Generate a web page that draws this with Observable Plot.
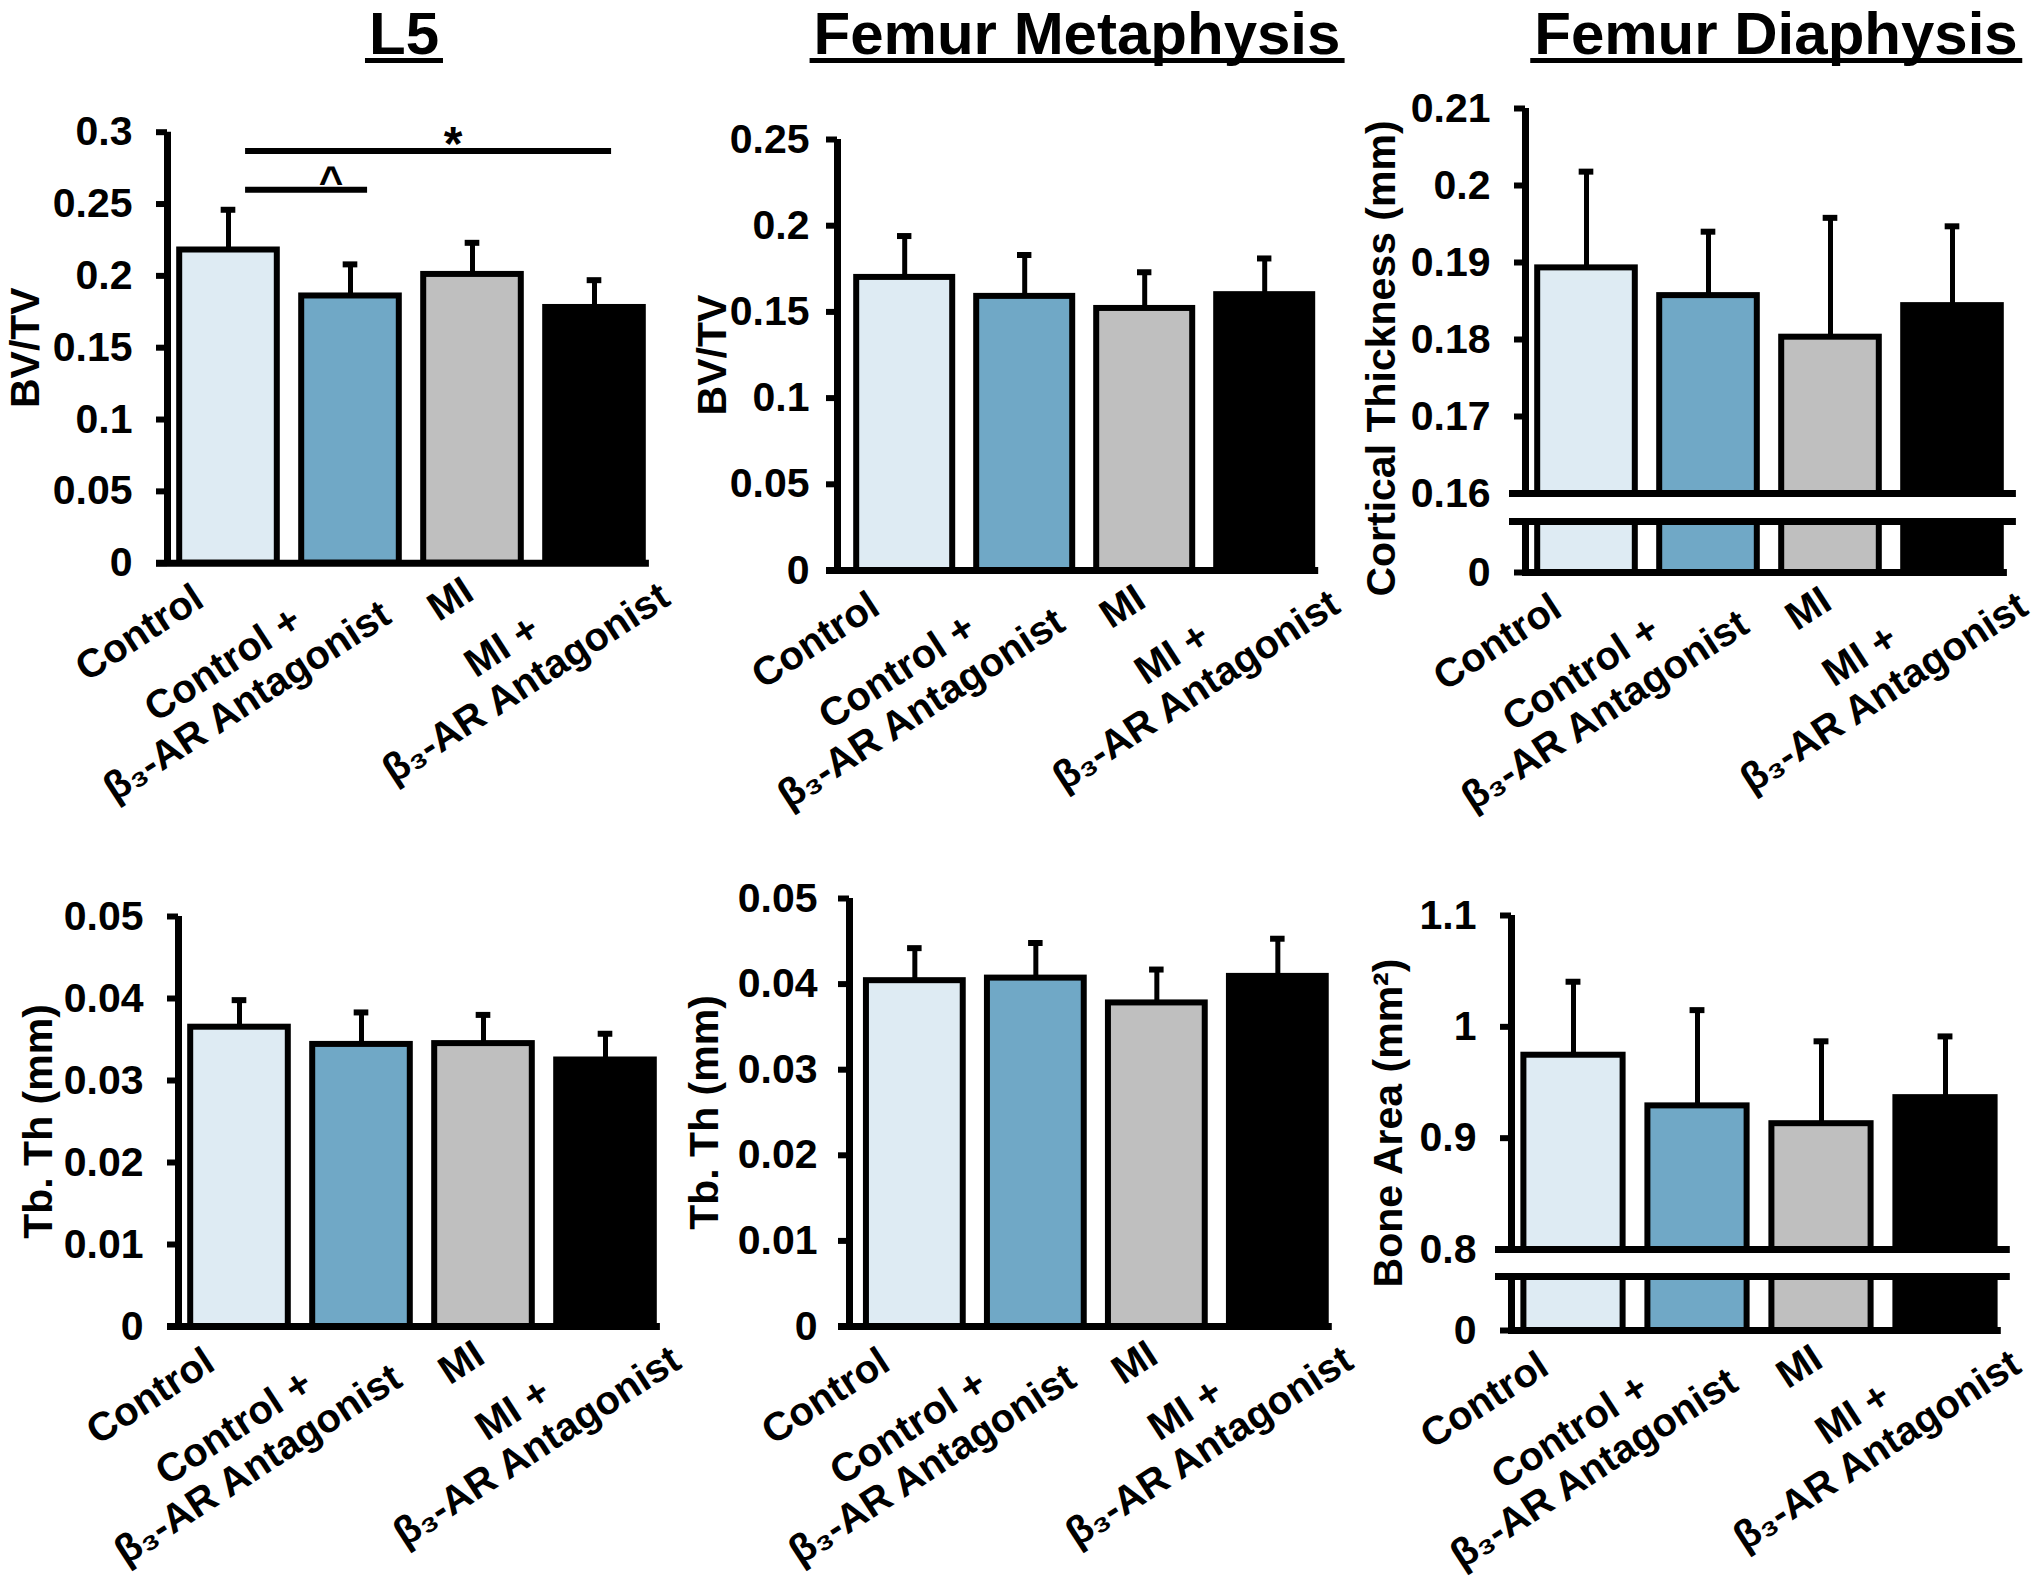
<!DOCTYPE html>
<html>
<head>
<meta charset="utf-8">
<script src="https://cdn.jsdelivr.net/npm/d3@7"></script>
<script src="https://cdn.jsdelivr.net/npm/@observablehq/plot@0.6"></script>
<style>
  html, body { margin: 0; padding: 0; background: #fff; }
  #root { position: relative; width: 2040px; height: 1585px; overflow: hidden; background: #fff;
          font-family: "Liberation Sans", Arial, Helvetica, sans-serif; }
  .title { position: absolute; top: 0; font-weight: bold; font-size: 60px; line-height: 67px; height: 58px;
           white-space: nowrap; transform: translateX(-50%); padding: 0 4px; border-bottom: 5px solid #000; color: #000; }
  .panel { position: absolute; }
</style>
</head>
<body>
<div id="root"></div>
<script>
// ---------- data ----------
const groups = ["Control", "Control +\nβ₃-AR Antagonist", "MI", "MI +\nβ₃-AR Antagonist"];
const barFills = ["#DEEBF3", "#70A8C6", "#BFBFBF", "#000000"];

const titles = ["L5", "Femur Metaphysis", "Femur Diaphysis"];

// L5 BV/TV
const l5BvTvMean = [0.218, 0.186, 0.201, 0.178];
const l5BvTvErr  = [0.028, 0.022, 0.022, 0.019];
const l5BvTvTicks = [0, 0.05, 0.1, 0.15, 0.2, 0.25, 0.3];

// Femur metaphysis BV/TV
const metaBvTvMean = [0.170, 0.159, 0.152, 0.160];
const metaBvTvErr  = [0.024, 0.024, 0.021, 0.021];
const metaBvTvTicks = [0, 0.05, 0.1, 0.15, 0.2, 0.25];

// Femur diaphysis cortical thickness (mm)
const ctThMean = [0.1893, 0.1857, 0.1803, 0.1844];
const ctThErr  = [0.0125, 0.0083, 0.0155, 0.0103];
const ctThTicks = [0, 0.16, 0.17, 0.18, 0.19, 0.2, 0.21];

// L5 Tb.Th (mm)
const l5TbThMean = [0.0365, 0.0344, 0.0345, 0.0325];
const l5TbThErr  = [0.0033, 0.0039, 0.0035, 0.0032];
const l5TbThTicks = [0, 0.01, 0.02, 0.03, 0.04, 0.05];

// Femur metaphysis Tb.Th (mm)
const metaTbThMean = [0.0404, 0.0407, 0.0378, 0.0409];
const metaTbThErr  = [0.0038, 0.0041, 0.0039, 0.0044];
const metaTbThTicks = [0, 0.01, 0.02, 0.03, 0.04, 0.05];

// Femur diaphysis bone area (mm²)
const boneAreaMean = [0.9745, 0.929, 0.913, 0.9364];
const boneAreaErr  = [0.066, 0.086, 0.074, 0.055];
const boneAreaTicks = [0, 0.8, 0.9, 1, 1.1];

// significance annotations (L5 BV/TV)
const sigFrom   = [0, 0];
const sigTo     = [1, 3];
const sigLevel  = [0.26, 0.287];
const sigSymbol = ["^", "*"];

// ---------- drawing ----------
const FONT = "'Liberation Sans', Arial, Helvetica, sans-serif";
const TICK_FS = 41, TITLE_FS = 41, LABEL_FS = 40;
const ANGLE = 33;          // label rotation (deg)
const LINE_H = 44;         // label line spacing
// top-right corner of each rotated label block, relative to its tick on the x axis line
const labelAnchorDx = [-38, 4, -12, 39];
const labelAnchorDy = [18, -3, 11, -21];

const ctx = document.createElement("canvas").getContext("2d");
ctx.font = `bold ${LABEL_FS}px ${FONT}`;
const tw = s => ctx.measureText(s).width;
const fmt = d3.format("~g");
const root = document.getElementById("root");

function makePanel(cfg) {
  const xStart = cfg.xStart ?? -0.5, xStop = 3.45;
  const xEnd = cfg.axisX + (xStop - xStart) * cfg.step;
  const marginLeft = cfg.axisX - cfg.left;
  const marginRight = cfg.left + cfg.width - xEnd;
  const marginTop = cfg.topY - cfg.top;
  const marginBottom = cfg.top + cfg.height - cfg.zeroY;
  const hasBreak = cfg.breakHigh != null;

  // broken axis: values >= breakHigh keep their scale; the stub below the break is squeezed
  let u = v => v, gapLo = null;
  if (hasBreak) {
    const pxPerUnit = (cfg.breakY - cfg.topY) / (cfg.yMax - cfg.breakHigh);
    const gapU = (cfg.lowY - cfg.breakY) / pxPerUnit;
    const lowU = (cfg.zeroY - cfg.lowY) / pxPerUnit;
    gapLo = cfg.breakHigh - gapU;
    u = v => v >= cfg.breakHigh ? v : (gapLo - lowU) + (v / cfg.breakHigh) * lowU;
  }
  const rows = groups.map((g, i) => ({i, mean: cfg.means[i], err: cfg.errs[i], fill: barFills[i]}));
  const X0 = () => xStart, X1 = () => xStop;

  const marks = [
    // error bars (upper only)
    Plot.ruleX(rows, {x: "i", y1: d => u(d.mean), y2: d => u(d.mean + d.err), stroke: "#000", strokeWidth: 5}),
    Plot.ruleY(rows, {y: d => u(d.mean + d.err), x1: d => d.i - 0.06, x2: d => d.i + 0.06, stroke: "#000", strokeWidth: 6}),
    // bars
    Plot.rectY(rows, {x1: d => d.i - 0.4, x2: d => d.i + 0.4, y1: () => u(0), y2: d => u(d.mean),
                      fill: "fill", stroke: "#000", strokeWidth: 6}),
    // y axis line
    Plot.ruleX([xStart], {x: d => d, y1: () => u(0), y2: () => u(cfg.yMax), stroke: "#000", strokeWidth: 7}),
    // tick marks
    Plot.ruleY(cfg.ticks, {y: d => u(d), x1: X0, x2: X0, insetLeft: -11, stroke: "#000", strokeWidth: 6}),
    // x axis line
    Plot.ruleY([0], {y: d => u(d), x1: X0, x2: X1, insetLeft: hasBreak ? -3 : -11, stroke: "#000", strokeWidth: 7}),
  ];
  if (hasBreak) {
    marks.push(
      Plot.rect([0], {x1: X0, x2: X1, y1: () => gapLo, y2: () => cfg.breakHigh,
                      fill: "#fff", insetLeft: -25, insetRight: -25}),
      Plot.ruleY([gapLo, cfg.breakHigh], {y: d => d, x1: X0, x2: X1, insetLeft: -16, insetRight: -9,
                      stroke: "#000", strokeWidth: 7})
    );
  }
  // tick labels
  marks.push(Plot.text(cfg.ticks, {y: d => u(d), x: X0, text: d => fmt(d), textAnchor: "end", dx: -(cfg.tickGap ?? 35),
                                   fontSize: TICK_FS, fontWeight: "bold", fill: "#000"}));
  // y axis title
  marks.push(Plot.text([cfg.yLabel], {frameAnchor: "left", text: d => d, rotate: -90, textAnchor: "middle",
                                      lineAnchor: "middle", dx: cfg.yLabelX - cfg.axisX, dy: cfg.yLabelDy || 0,
                                      fontSize: TITLE_FS, fontWeight: "bold", fill: "#000"}));
  // category labels (rotated, centre-aligned multi-line blocks)
  const th = ANGLE * Math.PI / 180, c = Math.cos(th), s = Math.sin(th);
  groups.forEach((g, i) => {
    const lines = g.split("\n");
    const W = Math.max(...lines.map(tw));
    lines.forEach((line, j) => {
      const dx = labelAnchorDx[i] - c * W / 2 + s * LINE_H * j;
      const dy = labelAnchorDy[i] + s * W / 2 + c * LINE_H * j;
      marks.push(Plot.text([i], {x: d => d, frameAnchor: "bottom", text: () => line, textAnchor: "middle",
                                 lineAnchor: "top", rotate: -ANGLE, dx, dy,
                                 fontSize: LABEL_FS, fontWeight: "bold", fill: "#000"}));
    });
  });
  // significance brackets
  if (cfg.sig) {
    const sig = sigFrom.map((f, k) => ({f, t: sigTo[k], level: sigLevel[k], sym: sigSymbol[k]}));
    marks.push(
      Plot.ruleY(sig, {y: "level", x1: d => d.f + 0.14, x2: d => d.t + 0.14, stroke: "#000", strokeWidth: 6}),
      Plot.text(sig.filter(d => d.sym === "^"), {y: "level", x: d => (d.f + d.t) / 2 + 0.34, text: "sym",
                      lineAnchor: "bottom", dy: 6, fontSize: 42, fontWeight: "bold", fill: "#000"}),
      Plot.text(sig.filter(d => d.sym === "*"), {y: "level", x: d => (d.f + d.t) / 2 + 0.34, text: "sym",
                      lineAnchor: "bottom", dy: 9, fontSize: 48, fontWeight: "bold", fill: "#000"})
    );
  }

  const svg = Plot.plot({
    width: cfg.width, height: cfg.height,
    marginLeft, marginRight, marginTop, marginBottom,
    x: {domain: [xStart, xStop], axis: null},
    y: {domain: [u(0), cfg.yMax], axis: null},
    color: {type: "identity"},
    style: {fontFamily: FONT, background: "transparent", overflow: "visible", color: "#000"},
    marks
  });
  svg.classList.add("panel");
  svg.style.left = cfg.left + "px";
  svg.style.top = cfg.top + "px";
  svg.style.maxWidth = "none";
  root.appendChild(svg);
}

// titles
[[titles[0], 404], [titles[1], 1077], [titles[2], 1776]].forEach(([t, cx]) => {
  const d = document.createElement("div");
  d.className = "title";
  d.textContent = t;
  d.style.left = cx + "px";
  root.appendChild(d);
});

makePanel({left: 0, top: 80, width: 675, height: 740, axisX: 167, step: 122, topY: 131.7, zeroY: 562.7,
           yMax: 0.3, ticks: l5BvTvTicks, means: l5BvTvMean, errs: l5BvTvErr, yLabel: "BV/TV", yLabelX: 25, sig: true});
makePanel({left: 675, top: 80, width: 675, height: 740, axisX: 837, xStart: -0.56, step: 120, topY: 139, zeroY: 570,
           yMax: 0.25, ticks: metaBvTvTicks, means: metaBvTvMean, errs: metaBvTvErr, yLabel: "BV/TV", yLabelX: 712, tickGap: 28});
makePanel({left: 1350, top: 80, width: 690, height: 740, axisX: 1525, step: 122, topY: 108, zeroY: 572,
           yMax: 0.21, breakHigh: 0.16, breakY: 493, lowY: 521,
           ticks: ctThTicks, means: ctThMean, errs: ctThErr, yLabel: "Cortical Thickness (mm)", yLabelX: 1381, yLabelDy: 18});
makePanel({left: 0, top: 840, width: 675, height: 745, axisX: 178, step: 122, topY: 916, zeroY: 1326,
           yMax: 0.05, ticks: l5TbThTicks, means: l5TbThMean, errs: l5TbThErr, yLabel: "Tb. Th (mm)", yLabelX: 38});
makePanel({left: 675, top: 840, width: 675, height: 745, axisX: 849, xStart: -0.54, step: 121, topY: 898, zeroY: 1326,
           yMax: 0.05, ticks: metaTbThTicks, means: metaTbThMean, errs: metaTbThErr, yLabel: "Tb. Th (mm)", yLabelX: 704, tickGap: 32});
makePanel({left: 1350, top: 840, width: 690, height: 745, axisX: 1511, step: 124, topY: 915, zeroY: 1330,
           yMax: 1.1, breakHigh: 0.8, breakY: 1249, lowY: 1276,
           ticks: boneAreaTicks, means: boneAreaMean, errs: boneAreaErr, yLabel: "Bone Area (mm²)", yLabelX: 1388});
</script>
</body>
</html>
